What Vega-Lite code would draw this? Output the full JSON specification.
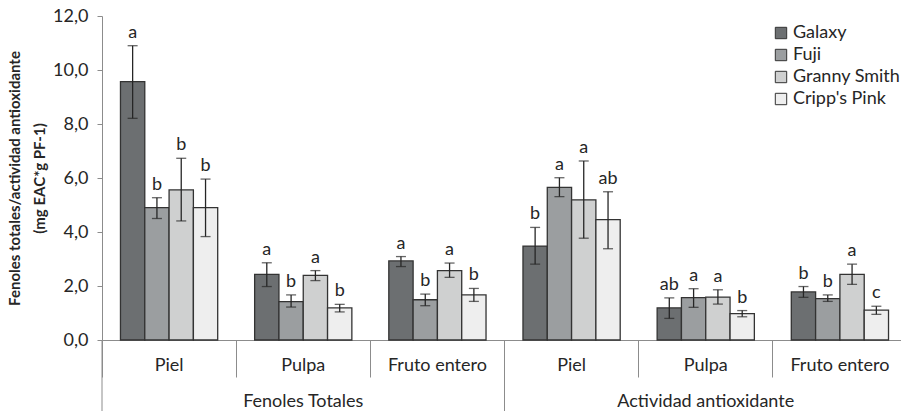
{
  "$schema": "https://vega.github.io/schema/vega-lite/v6.json",
  "width": 799,
  "height": 324,
  "autosize": {"type": "none"},
  "padding": {"left": 102, "top": 16, "right": 0, "bottom": 71},
  "background": "white",
  "config": {
    "view": {"stroke": null},
    "font": "Lato",
    "axis": {"grid": false, "domainColor": "#8c8c8c", "tickColor": "#8c8c8c", "labelColor": "#262626", "titleColor": "#262626"}
  },
  "data": {
    "values": [
      {"grupo": "Fenoles Totales|Piel", "tejido": "Piel", "variedad": "Galaxy", "valor": 9.57, "min": 8.21, "max": 10.9, "letra": "a"},
      {"grupo": "Fenoles Totales|Piel", "tejido": "Piel", "variedad": "Fuji", "valor": 4.9, "min": 4.5, "max": 5.27, "letra": "b"},
      {"grupo": "Fenoles Totales|Piel", "tejido": "Piel", "variedad": "Granny Smith", "valor": 5.56, "min": 4.41, "max": 6.73, "letra": "b"},
      {"grupo": "Fenoles Totales|Piel", "tejido": "Piel", "variedad": "Cripp's Pink", "valor": 4.9, "min": 3.83, "max": 5.96, "letra": "b"},
      {"grupo": "Fenoles Totales|Pulpa", "tejido": "Pulpa", "variedad": "Galaxy", "valor": 2.43, "min": 1.98, "max": 2.86, "letra": "a"},
      {"grupo": "Fenoles Totales|Pulpa", "tejido": "Pulpa", "variedad": "Fuji", "valor": 1.42, "min": 1.22, "max": 1.67, "letra": "b"},
      {"grupo": "Fenoles Totales|Pulpa", "tejido": "Pulpa", "variedad": "Granny Smith", "valor": 2.39, "min": 2.2, "max": 2.57, "letra": "a"},
      {"grupo": "Fenoles Totales|Pulpa", "tejido": "Pulpa", "variedad": "Cripp's Pink", "valor": 1.19, "min": 1.04, "max": 1.32, "letra": "b"},
      {"grupo": "Fenoles Totales|Fruto entero", "tejido": "Fruto entero", "variedad": "Galaxy", "valor": 2.93, "min": 2.72, "max": 3.09, "letra": "a"},
      {"grupo": "Fenoles Totales|Fruto entero", "tejido": "Fruto entero", "variedad": "Fuji", "valor": 1.49, "min": 1.27, "max": 1.7, "letra": "b"},
      {"grupo": "Fenoles Totales|Fruto entero", "tejido": "Fruto entero", "variedad": "Granny Smith", "valor": 2.57, "min": 2.32, "max": 2.85, "letra": "a"},
      {"grupo": "Fenoles Totales|Fruto entero", "tejido": "Fruto entero", "variedad": "Cripp's Pink", "valor": 1.67, "min": 1.43, "max": 1.91, "letra": "b"},
      {"grupo": "Actividad antioxidante|Piel", "tejido": "Piel", "variedad": "Galaxy", "valor": 3.48, "min": 2.81, "max": 4.17, "letra": "b"},
      {"grupo": "Actividad antioxidante|Piel", "tejido": "Piel", "variedad": "Fuji", "valor": 5.65, "min": 5.31, "max": 6.01, "letra": "a"},
      {"grupo": "Actividad antioxidante|Piel", "tejido": "Piel", "variedad": "Granny Smith", "valor": 5.19, "min": 3.77, "max": 6.63, "letra": "a"},
      {"grupo": "Actividad antioxidante|Piel", "tejido": "Piel", "variedad": "Cripp's Pink", "valor": 4.46, "min": 3.38, "max": 5.49, "letra": "ab"},
      {"grupo": "Actividad antioxidante|Pulpa", "tejido": "Pulpa", "variedad": "Galaxy", "valor": 1.19, "min": 0.8, "max": 1.56, "letra": "ab"},
      {"grupo": "Actividad antioxidante|Pulpa", "tejido": "Pulpa", "variedad": "Fuji", "valor": 1.57, "min": 1.21, "max": 1.9, "letra": "a"},
      {"grupo": "Actividad antioxidante|Pulpa", "tejido": "Pulpa", "variedad": "Granny Smith", "valor": 1.59, "min": 1.33, "max": 1.86, "letra": "a"},
      {"grupo": "Actividad antioxidante|Pulpa", "tejido": "Pulpa", "variedad": "Cripp's Pink", "valor": 0.98, "min": 0.86, "max": 1.09, "letra": "b"},
      {"grupo": "Actividad antioxidante|Fruto entero", "tejido": "Fruto entero", "variedad": "Galaxy", "valor": 1.78, "min": 1.58, "max": 1.98, "letra": "b"},
      {"grupo": "Actividad antioxidante|Fruto entero", "tejido": "Fruto entero", "variedad": "Fuji", "valor": 1.53, "min": 1.43, "max": 1.67, "letra": "b"},
      {"grupo": "Actividad antioxidante|Fruto entero", "tejido": "Fruto entero", "variedad": "Granny Smith", "valor": 2.43, "min": 2.06, "max": 2.81, "letra": "a"},
      {"grupo": "Actividad antioxidante|Fruto entero", "tejido": "Fruto entero", "variedad": "Cripp's Pink", "valor": 1.11, "min": 0.95, "max": 1.25, "letra": "c"}
    ]
  },
  "encoding": {
    "x": {
      "field": "grupo",
      "type": "nominal",
      "sort": null,
      "title": null,
      "scale": {"range": [0, 805], "paddingInner": 0, "paddingOuter": 0},
      "axis": {
        "bandPosition": 0,
        "tickSize": 37,
        "labelAngle": 0,
        "labelFontSize": 18,
        "labelPadding": -21,
        "labelLineHeight": 36,
        "labelBaseline": "top",
        "domainWidth": 1,
        "labelExpr": "split(datum.value, '|')[1] == 'Pulpa' ? ['Pulpa', split(datum.value, '|')[0]] : split(datum.value, '|')[1]"
      }
    }
  },
  "layer": [
    {
      "mark": {"type": "bar", "stroke": "#333333", "strokeWidth": 1.3},
      "encoding": {
        "xOffset": {"field": "variedad", "sort": ["Galaxy", "Fuji", "Granny Smith", "Cripp's Pink"], "scale": {"paddingInner": 0, "paddingOuter": 0.76}},
        "y": {
          "field": "valor",
          "type": "quantitative",
          "scale": {"domain": [0, 12], "nice": false},
          "title": ["Fenoles totales/actividad antioxidante", "(mg EAC*g PF-1)"],
          "axis": {
            "values": [0, 2, 4, 6, 8, 10, 12],
            "labelExpr": "replace(format(datum.value, '.1f'), '.', ',')",
            "labelFontSize": 18,
            "tickSize": 5,
            "labelPadding": 9,
            "titleFontSize": 15,
            "titleFontWeight": "bold",
            "titleLineHeight": 25,
            "titleX": -80,
            "titleY": 162,
            "titleAlign": "center",
            "titleBaseline": "bottom"
          }
        },
        "fill": {
          "field": "variedad",
          "type": "nominal",
          "scale": {"domain": ["Galaxy", "Fuji", "Granny Smith", "Cripp's Pink"], "range": ["#6c6f71", "#9b9ea0", "#cfd0d0", "#eeeeee"]},
          "legend": {
            "orient": "none",
            "legendX": 670,
            "legendY": 8,
            "title": null,
            "symbolType": "square",
            "symbolSize": 130,
            "symbolStrokeColor": "#333333",
            "symbolStrokeWidth": 1,
            "labelFontSize": 18,
            "labelColor": "#262626",
            "labelOffset": 3,
            "rowPadding": 4
          }
        }
      }
    },
    {
      "mark": {"type": "rule", "color": "#262626", "strokeWidth": 1.3},
      "encoding": {
        "xOffset": {"field": "variedad", "sort": ["Galaxy", "Fuji", "Granny Smith", "Cripp's Pink"], "scale": {"paddingInner": 0, "paddingOuter": 0.76}},
        "y": {"field": "min", "type": "quantitative"},
        "y2": {"field": "max"}
      }
    },
    {
      "mark": {"type": "tick", "color": "#262626", "thickness": 1.3, "size": 10},
      "encoding": {
        "xOffset": {"field": "variedad", "sort": ["Galaxy", "Fuji", "Granny Smith", "Cripp's Pink"], "scale": {"paddingInner": 0, "paddingOuter": 0.76}},
        "y": {"field": "min", "type": "quantitative"}
      }
    },
    {
      "mark": {"type": "tick", "color": "#262626", "thickness": 1.3, "size": 10},
      "encoding": {
        "xOffset": {"field": "variedad", "sort": ["Galaxy", "Fuji", "Granny Smith", "Cripp's Pink"], "scale": {"paddingInner": 0, "paddingOuter": 0.76}},
        "y": {"field": "max", "type": "quantitative"}
      }
    },
    {
      "mark": {"type": "text", "fontSize": 18, "color": "#262626", "baseline": "bottom", "dy": -4},
      "encoding": {
        "xOffset": {"field": "variedad", "sort": ["Galaxy", "Fuji", "Granny Smith", "Cripp's Pink"], "scale": {"paddingInner": 0, "paddingOuter": 0.76}},
        "y": {"field": "max", "type": "quantitative"},
        "text": {"field": "letra"}
      }
    },
    {
      "transform": [{"filter": "datum.tejido == 'Piel' && datum.variedad == 'Galaxy'"}],
      "mark": {"type": "rule", "color": "#8c8c8c", "strokeWidth": 1},
      "encoding": {
        "x": {"field": "grupo", "type": "nominal", "sort": null, "bandPosition": 0},
        "y": {"datum": 0},
        "y2": {"datum": -2.7}
      }
    }
  ]
}
